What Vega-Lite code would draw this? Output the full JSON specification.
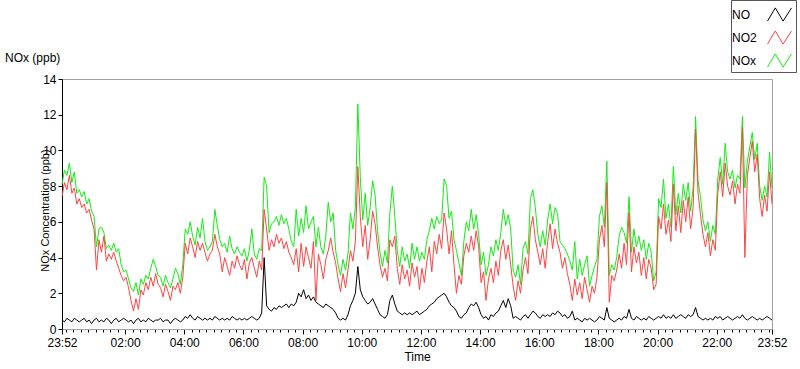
{
"$schema":"https://vega.github.io/schema/vega-lite/v6.json",
"width":710,"height":250,
"autosize":{"type":"none"},
"padding":{"left":62,"top":79,"right":28,"bottom":40},
"background":"white",
"title":{"text":"NOx (ppb)","anchor":"start","frame":"group","dx":-57,"offset":0,"dy":74,"baseline":"alphabetic","fontSize":12,"fontWeight":"normal","font":"Liberation Sans","color":"#000"},
"config":{"view":{"stroke":"#a0a0a0"},"font":"Liberation Sans",
"axisY":{"values":[0,2,4,6,8,10,12,14],"grid":false,"tickSize":4,"tickColor":"#000","domainColor":"#000","labelFontSize":12,"labelColor":"#000","labelPadding":2,"labelOverlap":false,"labelBound":false,"labelFlush":false,"titleFontSize":11,"titleFontWeight":"normal","titleColor":"#000","titleX":-17,"titleY":131,"titleAlign":"center","titleBaseline":"middle","titleAngle":-90},
"legend":{"orient":"none","legendX":669,"legendY":-79,"padding":2,"strokeColor":"#555","fillColor":"white","labelFontSize":12,"labelColor":"#000","labelFont":"Liberation Sans","symbolType":"M-1,0.55L-0.35,-0.55L0.3,0.55L1,-0.55","symbolSize":576,"symbolStrokeWidth":1,"labelAlign":"left","labelOffset":-60,"symbolOffset":34,"rowPadding":1,"title":null}},
"data":{"values":[
{"m":0,"NO":0.5,"NO2":7.4,"NOx":8.1},{"m":5,"NO":0.4,"NO2":8.2,"NOx":8.9},{"m":10,"NO":0.6,"NO2":7.8,"NOx":8.6},{"m":15,"NO":0.5,"NO2":8.6,"NOx":9.3},{"m":20,"NO":0.4,"NO2":7.6,"NOx":8.2},{"m":25,"NO":0.6,"NO2":7.9,"NOx":8.8},{"m":30,"NO":0.5,"NO2":7.0,"NOx":7.6},{"m":35,"NO":0.4,"NO2":7.3,"NOx":7.8},{"m":40,"NO":0.5,"NO2":6.8,"NOx":7.4},{"m":45,"NO":0.6,"NO2":7.0,"NOx":7.7},
{"m":50,"NO":0.4,"NO2":6.5,"NOx":7.0},{"m":55,"NO":0.5,"NO2":6.7,"NOx":7.3},{"m":60,"NO":0.3,"NO2":6.1,"NOx":6.6},{"m":65,"NO":0.5,"NO2":5.6,"NOx":6.3},{"m":70,"NO":0.6,"NO2":3.3,"NOx":4.6},{"m":75,"NO":0.4,"NO2":5.0,"NOx":5.6},{"m":80,"NO":0.5,"NO2":4.3,"NOx":5.7},{"m":85,"NO":0.4,"NO2":5.2,"NOx":5.4},{"m":90,"NO":0.6,"NO2":3.8,"NOx":4.5},{"m":95,"NO":0.5,"NO2":4.2,"NOx":4.7},
{"m":100,"NO":0.3,"NO2":3.9,"NOx":4.4},{"m":105,"NO":0.5,"NO2":4.3,"NOx":4.8},{"m":110,"NO":0.6,"NO2":3.8,"NOx":4.3},{"m":115,"NO":0.4,"NO2":3.4,"NOx":4.5},{"m":120,"NO":0.5,"NO2":3.0,"NOx":3.6},{"m":125,"NO":0.6,"NO2":2.7,"NOx":3.2},{"m":130,"NO":0.5,"NO2":2.9,"NOx":3.3},{"m":135,"NO":0.4,"NO2":2.3,"NOx":2.8},{"m":140,"NO":0.5,"NO2":1.6,"NOx":2.3},{"m":145,"NO":0.3,"NO2":1.0,"NOx":2.1},
{"m":150,"NO":0.5,"NO2":1.7,"NOx":2.6},{"m":155,"NO":0.6,"NO2":1.1,"NOx":1.9},{"m":160,"NO":0.4,"NO2":2.2,"NOx":2.8},{"m":165,"NO":0.5,"NO2":1.9,"NOx":2.5},{"m":170,"NO":0.4,"NO2":2.6,"NOx":3.0},{"m":175,"NO":0.6,"NO2":2.2,"NOx":2.8},{"m":180,"NO":0.5,"NO2":2.9,"NOx":3.4},{"m":185,"NO":0.4,"NO2":2.4,"NOx":3.9},{"m":190,"NO":0.5,"NO2":3.1,"NOx":3.5},{"m":195,"NO":0.5,"NO2":2.5,"NOx":3.0},
{"m":200,"NO":0.6,"NO2":2.3,"NOx":2.9},{"m":205,"NO":0.4,"NO2":1.8,"NOx":2.4},{"m":210,"NO":0.5,"NO2":2.5,"NOx":3.0},{"m":215,"NO":0.5,"NO2":2.1,"NOx":2.6},{"m":220,"NO":0.3,"NO2":1.6,"NOx":2.3},{"m":225,"NO":0.5,"NO2":2.4,"NOx":2.8},{"m":230,"NO":0.6,"NO2":2.2,"NOx":3.4},{"m":235,"NO":0.5,"NO2":2.6,"NOx":3.1},{"m":240,"NO":0.4,"NO2":2.0,"NOx":2.5},{"m":245,"NO":0.5,"NO2":2.9,"NOx":3.6},
{"m":250,"NO":0.7,"NO2":4.8,"NOx":5.6},{"m":255,"NO":0.6,"NO2":4.2,"NOx":5.3},{"m":260,"NO":0.8,"NO2":5.1,"NOx":6.0},{"m":265,"NO":0.6,"NO2":4.6,"NOx":5.2},{"m":270,"NO":0.5,"NO2":4.0,"NOx":4.7},{"m":275,"NO":0.7,"NO2":4.9,"NOx":5.7},{"m":280,"NO":0.6,"NO2":4.4,"NOx":5.1},{"m":285,"NO":0.5,"NO2":4.8,"NOx":6.2},{"m":290,"NO":0.6,"NO2":4.3,"NOx":4.9},{"m":295,"NO":0.5,"NO2":3.8,"NOx":4.4},
{"m":300,"NO":0.6,"NO2":4.2,"NOx":4.6},{"m":305,"NO":0.5,"NO2":4.4,"NOx":4.9},{"m":310,"NO":0.7,"NO2":5.3,"NOx":6.7},{"m":315,"NO":0.6,"NO2":4.6,"NOx":5.8},{"m":320,"NO":0.5,"NO2":4.2,"NOx":5.0},{"m":325,"NO":0.6,"NO2":3.2,"NOx":4.6},{"m":330,"NO":0.5,"NO2":4.0,"NOx":4.8},{"m":335,"NO":0.6,"NO2":3.5,"NOx":4.3},{"m":340,"NO":0.5,"NO2":3.0,"NOx":5.2},{"m":345,"NO":0.7,"NO2":3.8,"NOx":4.5},
{"m":350,"NO":0.6,"NO2":3.4,"NOx":4.2},{"m":355,"NO":0.5,"NO2":4.1,"NOx":4.6},{"m":360,"NO":0.6,"NO2":3.6,"NOx":4.3},{"m":365,"NO":0.5,"NO2":3.3,"NOx":4.1},{"m":370,"NO":0.6,"NO2":3.9,"NOx":4.5},{"m":375,"NO":0.5,"NO2":2.8,"NOx":3.8},{"m":380,"NO":0.6,"NO2":3.7,"NOx":4.4},{"m":385,"NO":0.7,"NO2":4.0,"NOx":5.6},{"m":390,"NO":0.6,"NO2":3.4,"NOx":4.2},{"m":395,"NO":0.5,"NO2":2.9,"NOx":3.9},
{"m":400,"NO":0.6,"NO2":3.8,"NOx":4.5},{"m":405,"NO":0.9,"NO2":3.3,"NOx":4.4},{"m":410,"NO":4.0,"NO2":6.7,"NOx":8.5},{"m":415,"NO":1.3,"NO2":5.6,"NOx":8.0},{"m":420,"NO":1.1,"NO2":4.4,"NOx":5.4},{"m":425,"NO":1.0,"NO2":5.0,"NOx":5.9},{"m":430,"NO":1.2,"NO2":4.6,"NOx":6.0},{"m":435,"NO":1.1,"NO2":5.3,"NOx":6.3},{"m":440,"NO":1.3,"NO2":4.8,"NOx":5.8},{"m":445,"NO":1.2,"NO2":5.1,"NOx":6.4},
{"m":450,"NO":1.3,"NO2":4.5,"NOx":5.9},{"m":455,"NO":1.4,"NO2":4.9,"NOx":6.2},{"m":460,"NO":1.2,"NO2":4.3,"NOx":5.6},{"m":465,"NO":1.4,"NO2":4.0,"NOx":4.9},{"m":470,"NO":1.3,"NO2":3.6,"NOx":4.6},{"m":475,"NO":1.5,"NO2":4.5,"NOx":6.7},{"m":480,"NO":2.0,"NO2":3.2,"NOx":5.2},{"m":485,"NO":1.8,"NO2":4.8,"NOx":6.2},{"m":490,"NO":2.2,"NO2":3.5,"NOx":5.4},{"m":495,"NO":1.7,"NO2":4.6,"NOx":6.9},
{"m":500,"NO":1.9,"NO2":4.0,"NOx":5.6},{"m":505,"NO":1.6,"NO2":3.4,"NOx":6.0},{"m":510,"NO":1.8,"NO2":4.9,"NOx":6.3},{"m":515,"NO":1.5,"NO2":1.6,"NOx":4.6},{"m":520,"NO":1.4,"NO2":4.2,"NOx":5.7},{"m":525,"NO":1.3,"NO2":3.6,"NOx":4.6},{"m":530,"NO":1.2,"NO2":2.8,"NOx":4.2},{"m":535,"NO":1.4,"NO2":3.9,"NOx":5.2},{"m":540,"NO":1.3,"NO2":4.4,"NOx":7.1},{"m":545,"NO":1.2,"NO2":5.1,"NOx":6.0},
{"m":550,"NO":1.1,"NO2":4.3,"NOx":6.5},{"m":555,"NO":0.9,"NO2":3.7,"NOx":4.4},{"m":560,"NO":0.6,"NO2":2.8,"NOx":3.6},{"m":565,"NO":0.5,"NO2":2.1,"NOx":3.0},{"m":570,"NO":0.6,"NO2":3.1,"NOx":3.9},{"m":575,"NO":0.5,"NO2":2.3,"NOx":3.3},{"m":580,"NO":0.8,"NO2":3.3,"NOx":4.2},{"m":585,"NO":1.3,"NO2":4.4,"NOx":6.5},{"m":590,"NO":1.6,"NO2":3.8,"NOx":5.6},{"m":595,"NO":2.0,"NO2":4.9,"NOx":6.8},
{"m":600,"NO":3.5,"NO2":9.1,"NOx":12.6},{"m":605,"NO":2.2,"NO2":6.3,"NOx":8.5},{"m":610,"NO":1.8,"NO2":4.6,"NOx":6.1},{"m":615,"NO":1.6,"NO2":5.8,"NOx":7.6},{"m":620,"NO":1.4,"NO2":3.9,"NOx":5.8},{"m":625,"NO":1.5,"NO2":5.0,"NOx":6.8},{"m":630,"NO":1.7,"NO2":6.6,"NOx":8.3},{"m":635,"NO":1.4,"NO2":5.9,"NOx":7.5},{"m":640,"NO":1.1,"NO2":4.6,"NOx":5.5},{"m":645,"NO":0.8,"NO2":3.6,"NOx":4.3},
{"m":650,"NO":0.7,"NO2":2.9,"NOx":3.5},{"m":655,"NO":0.6,"NO2":3.4,"NOx":4.4},{"m":660,"NO":0.8,"NO2":2.7,"NOx":3.7},{"m":665,"NO":1.6,"NO2":5.0,"NOx":6.5},{"m":670,"NO":1.9,"NO2":4.6,"NOx":8.0},{"m":675,"NO":1.4,"NO2":5.2,"NOx":6.3},{"m":680,"NO":1.0,"NO2":3.4,"NOx":4.4},{"m":685,"NO":0.9,"NO2":2.5,"NOx":3.5},{"m":690,"NO":0.8,"NO2":3.6,"NOx":4.6},{"m":695,"NO":0.9,"NO2":2.8,"NOx":3.8},
{"m":700,"NO":0.8,"NO2":3.3,"NOx":4.2},{"m":705,"NO":0.9,"NO2":2.4,"NOx":3.4},{"m":710,"NO":0.8,"NO2":3.7,"NOx":4.8},{"m":715,"NO":0.9,"NO2":2.9,"NOx":3.9},{"m":720,"NO":1.0,"NO2":3.5,"NOx":4.6},{"m":725,"NO":0.8,"NO2":2.2,"NOx":3.8},{"m":730,"NO":0.9,"NO2":3.4,"NOx":4.3},{"m":735,"NO":1.0,"NO2":2.6,"NOx":3.9},{"m":740,"NO":1.1,"NO2":3.8,"NOx":5.0},{"m":745,"NO":1.3,"NO2":4.6,"NOx":5.5},
{"m":750,"NO":1.4,"NO2":3.2,"NOx":6.2},{"m":755,"NO":1.5,"NO2":4.9,"NOx":5.6},{"m":760,"NO":1.7,"NO2":4.2,"NOx":6.3},{"m":765,"NO":1.8,"NO2":5.3,"NOx":5.9},{"m":770,"NO":1.9,"NO2":4.5,"NOx":6.1},{"m":775,"NO":2.0,"NO2":6.5,"NOx":8.4},{"m":780,"NO":1.8,"NO2":5.6,"NOx":8.0},{"m":785,"NO":1.5,"NO2":4.2,"NOx":6.2},{"m":790,"NO":1.3,"NO2":5.5,"NOx":6.6},{"m":795,"NO":1.2,"NO2":3.6,"NOx":5.0},
{"m":800,"NO":1.0,"NO2":2.0,"NOx":4.4},{"m":805,"NO":0.7,"NO2":3.0,"NOx":3.7},{"m":810,"NO":0.6,"NO2":2.5,"NOx":3.0},{"m":815,"NO":0.8,"NO2":4.1,"NOx":4.9},{"m":820,"NO":0.9,"NO2":4.8,"NOx":6.0},{"m":825,"NO":1.2,"NO2":4.3,"NOx":5.5},{"m":830,"NO":1.4,"NO2":5.2,"NOx":6.7},{"m":835,"NO":1.3,"NO2":4.4,"NOx":5.6},{"m":840,"NO":1.5,"NO2":5.5,"NOx":6.4},{"m":845,"NO":1.2,"NO2":4.6,"NOx":5.3},
{"m":850,"NO":0.8,"NO2":2.6,"NOx":3.6},{"m":855,"NO":0.6,"NO2":3.2,"NOx":4.3},{"m":860,"NO":0.7,"NO2":1.6,"NOx":3.0},{"m":865,"NO":0.5,"NO2":2.8,"NOx":3.6},{"m":870,"NO":0.8,"NO2":3.4,"NOx":4.6},{"m":875,"NO":0.7,"NO2":2.6,"NOx":4.1},{"m":880,"NO":0.9,"NO2":3.8,"NOx":5.0},{"m":885,"NO":1.0,"NO2":3.0,"NOx":4.4},{"m":890,"NO":1.3,"NO2":4.4,"NOx":5.4},{"m":895,"NO":1.6,"NO2":5.0,"NOx":6.7},
{"m":900,"NO":1.2,"NO2":3.9,"NOx":5.8},{"m":905,"NO":1.7,"NO2":4.7,"NOx":6.4},{"m":910,"NO":1.3,"NO2":3.6,"NOx":5.6},{"m":915,"NO":0.6,"NO2":2.4,"NOx":3.3},{"m":920,"NO":0.7,"NO2":1.6,"NOx":2.9},{"m":925,"NO":0.6,"NO2":2.7,"NOx":3.6},{"m":930,"NO":0.5,"NO2":2.0,"NOx":2.5},{"m":935,"NO":0.7,"NO2":3.3,"NOx":4.5},{"m":940,"NO":0.8,"NO2":4.0,"NOx":4.9},{"m":945,"NO":0.6,"NO2":3.1,"NOx":4.2},
{"m":950,"NO":0.8,"NO2":5.6,"NOx":7.3},{"m":955,"NO":1.0,"NO2":6.3,"NOx":7.8},{"m":960,"NO":0.9,"NO2":5.0,"NOx":6.8},{"m":965,"NO":0.7,"NO2":4.3,"NOx":5.3},{"m":970,"NO":0.6,"NO2":3.6,"NOx":4.6},{"m":975,"NO":0.8,"NO2":4.5,"NOx":5.5},{"m":980,"NO":0.7,"NO2":3.4,"NOx":4.7},{"m":985,"NO":0.8,"NO2":4.9,"NOx":6.1},{"m":990,"NO":0.7,"NO2":5.9,"NOx":7.0},{"m":995,"NO":0.9,"NO2":4.5,"NOx":5.9},
{"m":1000,"NO":0.8,"NO2":5.6,"NOx":6.8},{"m":1005,"NO":1.0,"NO2":4.8,"NOx":6.5},{"m":1010,"NO":0.9,"NO2":4.3,"NOx":4.9},{"m":1015,"NO":0.7,"NO2":3.4,"NOx":4.7},{"m":1020,"NO":0.8,"NO2":4.0,"NOx":4.5},{"m":1025,"NO":0.6,"NO2":3.1,"NOx":4.2},{"m":1030,"NO":0.7,"NO2":2.5,"NOx":3.8},{"m":1035,"NO":1.0,"NO2":1.6,"NOx":3.3},{"m":1040,"NO":0.5,"NO2":2.8,"NOx":4.9},{"m":1045,"NO":0.6,"NO2":1.9,"NOx":2.8},
{"m":1050,"NO":0.5,"NO2":2.6,"NOx":3.9},{"m":1055,"NO":0.4,"NO2":1.7,"NOx":3.0},{"m":1060,"NO":0.6,"NO2":2.9,"NOx":3.6},{"m":1065,"NO":0.5,"NO2":2.2,"NOx":4.1},{"m":1070,"NO":0.6,"NO2":1.5,"NOx":2.4},{"m":1075,"NO":0.5,"NO2":2.4,"NOx":3.0},{"m":1080,"NO":0.4,"NO2":2.0,"NOx":3.5},{"m":1085,"NO":0.5,"NO2":2.9,"NOx":3.9},{"m":1090,"NO":0.7,"NO2":5.0,"NOx":6.3},{"m":1095,"NO":0.6,"NO2":5.8,"NOx":6.9},
{"m":1100,"NO":0.5,"NO2":4.6,"NOx":5.7},{"m":1105,"NO":1.2,"NO2":8.2,"NOx":9.4},{"m":1110,"NO":0.6,"NO2":1.5,"NOx":3.0},{"m":1115,"NO":0.5,"NO2":3.0,"NOx":3.6},{"m":1120,"NO":0.4,"NO2":2.7,"NOx":3.3},{"m":1125,"NO":0.5,"NO2":3.3,"NOx":4.0},{"m":1130,"NO":0.6,"NO2":4.2,"NOx":5.2},{"m":1135,"NO":0.5,"NO2":3.4,"NOx":5.7},{"m":1140,"NO":0.7,"NO2":4.8,"NOx":5.4},{"m":1145,"NO":0.6,"NO2":3.6,"NOx":4.8},
{"m":1150,"NO":1.1,"NO2":6.5,"NOx":7.4},{"m":1155,"NO":0.6,"NO2":3.2,"NOx":4.3},{"m":1160,"NO":0.5,"NO2":4.6,"NOx":5.6},{"m":1165,"NO":0.7,"NO2":3.7,"NOx":4.6},{"m":1170,"NO":0.6,"NO2":4.3,"NOx":5.2},{"m":1175,"NO":0.5,"NO2":3.0,"NOx":4.4},{"m":1180,"NO":0.6,"NO2":4.0,"NOx":5.0},{"m":1185,"NO":0.5,"NO2":2.8,"NOx":3.9},{"m":1190,"NO":0.7,"NO2":3.9,"NOx":4.8},{"m":1195,"NO":0.6,"NO2":3.4,"NOx":4.3},
{"m":1200,"NO":0.5,"NO2":2.2,"NOx":2.7},{"m":1205,"NO":0.6,"NO2":2.5,"NOx":3.2},{"m":1210,"NO":0.7,"NO2":6.3,"NOx":7.3},{"m":1215,"NO":0.6,"NO2":5.6,"NOx":6.8},{"m":1220,"NO":0.8,"NO2":7.0,"NOx":8.4},{"m":1225,"NO":0.6,"NO2":5.3,"NOx":6.2},{"m":1230,"NO":0.7,"NO2":6.1,"NOx":7.0},{"m":1235,"NO":0.6,"NO2":4.9,"NOx":5.7},{"m":1240,"NO":0.8,"NO2":8.1,"NOx":9.1},{"m":1245,"NO":0.6,"NO2":5.5,"NOx":6.4},
{"m":1250,"NO":0.7,"NO2":6.9,"NOx":7.6},{"m":1255,"NO":0.8,"NO2":5.4,"NOx":6.5},{"m":1260,"NO":0.7,"NO2":7.2,"NOx":8.1},{"m":1265,"NO":0.6,"NO2":6.0,"NOx":7.2},{"m":1270,"NO":0.8,"NO2":7.4,"NOx":8.2},{"m":1275,"NO":0.7,"NO2":5.6,"NOx":6.6},{"m":1280,"NO":0.8,"NO2":6.8,"NOx":7.9},{"m":1285,"NO":1.2,"NO2":11.2,"NOx":11.9},{"m":1290,"NO":0.7,"NO2":7.6,"NOx":8.3},{"m":1295,"NO":0.6,"NO2":6.4,"NOx":7.4},
{"m":1300,"NO":0.5,"NO2":5.3,"NOx":6.1},{"m":1305,"NO":0.6,"NO2":4.6,"NOx":5.5},{"m":1310,"NO":0.5,"NO2":5.4,"NOx":6.0},{"m":1315,"NO":0.6,"NO2":4.1,"NOx":4.9},{"m":1320,"NO":0.5,"NO2":5.0,"NOx":5.8},{"m":1325,"NO":0.7,"NO2":4.4,"NOx":5.3},{"m":1330,"NO":0.6,"NO2":7.6,"NOx":8.4},{"m":1335,"NO":0.7,"NO2":8.8,"NOx":9.6},{"m":1340,"NO":0.5,"NO2":7.4,"NOx":8.1},{"m":1345,"NO":0.6,"NO2":9.3,"NOx":10.4},
{"m":1350,"NO":0.7,"NO2":8.0,"NOx":8.8},{"m":1355,"NO":0.6,"NO2":7.5,"NOx":8.4},{"m":1360,"NO":0.5,"NO2":8.3,"NOx":8.9},{"m":1365,"NO":0.6,"NO2":7.0,"NOx":7.9},{"m":1370,"NO":0.7,"NO2":8.1,"NOx":8.6},{"m":1375,"NO":0.6,"NO2":7.6,"NOx":8.4},{"m":1380,"NO":0.8,"NO2":11.3,"NOx":11.9},{"m":1385,"NO":0.6,"NO2":4.0,"NOx":7.9},{"m":1390,"NO":0.5,"NO2":8.6,"NOx":9.4},{"m":1395,"NO":0.6,"NO2":9.6,"NOx":10.2},
{"m":1400,"NO":0.7,"NO2":10.5,"NOx":11.0},{"m":1405,"NO":0.6,"NO2":8.8,"NOx":9.5},{"m":1410,"NO":0.5,"NO2":9.8,"NOx":10.4},{"m":1415,"NO":0.6,"NO2":7.3,"NOx":8.0},{"m":1420,"NO":0.5,"NO2":6.3,"NOx":7.2},{"m":1425,"NO":0.6,"NO2":7.5,"NOx":8.0},{"m":1430,"NO":0.7,"NO2":6.6,"NOx":7.4},{"m":1435,"NO":0.6,"NO2":8.8,"NOx":9.9},{"m":1440,"NO":0.5,"NO2":7.0,"NOx":7.9}
]},
"encoding":{
"x":{"field":"m","type":"quantitative","scale":{"domain":[0,1440],"nice":false,"zero":false},
"axis":{"title":"Time","titleFontSize":12,"titleFontWeight":"normal","titleColor":"#000","titlePadding":3,"grid":false,
"values":[0,8,23,38,53,68,83,98,113,128,143,158,173,188,203,218,233,248,263,278,293,308,323,338,353,368,383,398,413,428,443,458,473,488,503,518,533,548,563,578,593,608,623,638,653,668,683,698,713,728,743,758,773,788,803,818,833,848,863,878,893,908,923,938,953,968,983,998,1013,1028,1043,1058,1073,1088,1103,1118,1133,1148,1163,1178,1193,1208,1223,1238,1253,1268,1283,1298,1313,1328,1343,1358,1373,1388,1403,1418,1433,1440],
"labelExpr":"(datum.value==0||datum.value==1440||(datum.value>=128&&(datum.value-128)%120==0))?timeFormat(datetime(2000,0,1,23,52+datum.value),'%H:%M'):''",
"tickSize":{"condition":{"test":"datum.value==0||datum.value==1440||(datum.value>=128&&(datum.value-128)%120==0)","value":5},"value":3},
"labelOverlap":false,"labelFlush":false,"labelBound":false,"labelFontSize":12,"labelColor":"#000","labelPadding":3,"tickColor":"#000","domainColor":"#a0a0a0"}}
},
"layer":[
{"mark":{"type":"line","strokeWidth":1},"encoding":{"y":{"field":"NOx","type":"quantitative","title":"NOx Concentration (ppb)","scale":{"domain":[0,14],"nice":false},"axis":{"values":[0,2,4,6,8,10,12,14],"labelOverlap":false}},
"color":{"datum":"NOx","type":"nominal","scale":{"domain":["NO","NO2","NOx"],"range":["#000000","#ff4444","#10ee10"]}}}},
{"mark":{"type":"line","strokeWidth":1},"encoding":{"y":{"field":"NO2","type":"quantitative","title":"NOx Concentration (ppb)","scale":{"domain":[0,14],"nice":false},"axis":{"values":[0,2,4,6,8,10,12,14],"labelOverlap":false}},"color":{"datum":"NO2","type":"nominal"}}},
{"mark":{"type":"line","strokeWidth":1},"encoding":{"y":{"field":"NO","type":"quantitative","title":"NOx Concentration (ppb)","scale":{"domain":[0,14],"nice":false},"axis":{"values":[0,2,4,6,8,10,12,14],"labelOverlap":false}},"color":{"datum":"NO","type":"nominal"}}}
]
}
